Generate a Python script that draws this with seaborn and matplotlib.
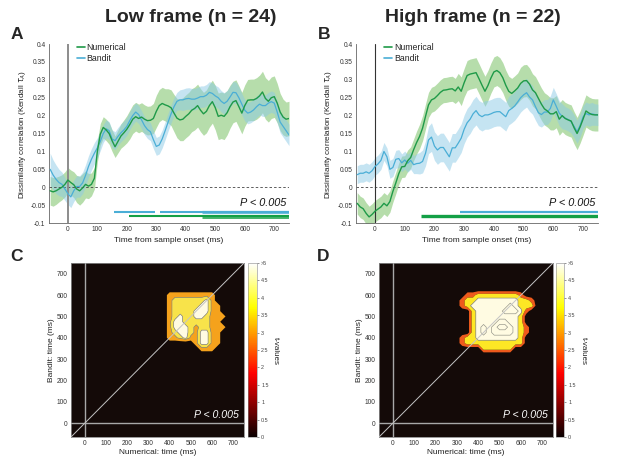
import numpy as np
import matplotlib
matplotlib.use('Agg')
import matplotlib.pyplot as plt
import seaborn as sns
from matplotlib.colors import Normalize
from matplotlib.cm import ScalarMappable

sns.set_style('white')
plt.rcParams['font.family'] = ['Liberation Sans', 'DejaVu Sans']
plt.rcParams['mathtext.fontset'] = 'dejavusans'

# ---------------- data: time courses (ms) ----------------
time = list(range(-60, 751, 10))

num_low = [-0.010, -0.013, -0.010, -0.005, 0.000, 0.008, 0.020, 0.013, 0.007, -0.005,
           -0.010, -0.002, 0.008, 0.003, 0.008, 0.025, 0.100, 0.148, 0.167, 0.160,
           0.150, 0.130, 0.113, 0.128, 0.143, 0.152, 0.162, 0.175, 0.190, 0.197,
           0.192, 0.196, 0.190, 0.186, 0.187, 0.192, 0.212, 0.228, 0.234, 0.230,
           0.227, 0.222, 0.207, 0.193, 0.188, 0.190, 0.198, 0.205, 0.215, 0.220,
           0.228, 0.215, 0.205, 0.212, 0.228, 0.239, 0.222, 0.198, 0.201, 0.198,
           0.208, 0.225, 0.238, 0.242, 0.225, 0.207, 0.228, 0.243, 0.244, 0.244,
           0.248, 0.255, 0.266, 0.248, 0.240, 0.250, 0.253, 0.235, 0.210, 0.196,
           0.190, 0.192]
num_low_sem = [0.040, 0.040, 0.038, 0.036, 0.035, 0.035, 0.035, 0.035, 0.036, 0.038,
               0.040, 0.040, 0.038, 0.035, 0.032, 0.030, 0.030, 0.030, 0.030, 0.030,
               0.030, 0.030, 0.030, 0.032, 0.034, 0.036, 0.038, 0.040, 0.040, 0.040,
               0.040, 0.040, 0.040, 0.040, 0.040, 0.042, 0.045, 0.045, 0.045, 0.045,
               0.048, 0.050, 0.052, 0.055, 0.058, 0.060, 0.060, 0.060, 0.060, 0.060,
               0.060, 0.060, 0.060, 0.060, 0.060, 0.060, 0.062, 0.065, 0.065, 0.065,
               0.062, 0.060, 0.058, 0.058, 0.058, 0.058, 0.058, 0.058, 0.058, 0.058,
               0.058, 0.058, 0.058, 0.058, 0.058, 0.058, 0.058, 0.055, 0.052, 0.050,
               0.048, 0.048]
ban_low = [0.050, 0.034, 0.022, 0.013, 0.008, -0.005, -0.018, -0.027, -0.010, 0.002,
           0.002, 0.012, 0.033, 0.058, 0.078, 0.095, 0.110, 0.128, 0.150, 0.163,
           0.158, 0.135, 0.130, 0.142, 0.152, 0.160, 0.170, 0.186, 0.200, 0.210,
           0.203, 0.188, 0.172, 0.161, 0.155, 0.133, 0.114, 0.118, 0.135, 0.158,
           0.182, 0.205, 0.225, 0.240, 0.244, 0.244, 0.247, 0.248, 0.246, 0.246,
           0.249, 0.253, 0.253, 0.257, 0.265, 0.262, 0.255, 0.250, 0.240, 0.234,
           0.240, 0.252, 0.265, 0.264, 0.250, 0.232, 0.215, 0.207, 0.210, 0.216,
           0.225, 0.232, 0.228, 0.228, 0.235, 0.239, 0.235, 0.210, 0.182, 0.170,
           0.158, 0.146]
ban_low_sem = ([0.045, 0.042, 0.040, 0.037, 0.034, 0.032, 0.030, 0.030, 0.030, 0.030,
                0.030, 0.030, 0.030, 0.030, 0.030, 0.030, 0.028, 0.026, 0.025, 0.025]
               + [0.025] * 24
               + [0.028, 0.030, 0.030, 0.030, 0.030, 0.030]
               + [0.030] * 32)

num_high = [-0.045, -0.055, -0.060, -0.073, -0.083, -0.076, -0.067, -0.061, -0.055, -0.045,
            -0.052, -0.040, -0.012, 0.012, 0.038, 0.057, 0.058, 0.074, 0.083, 0.105,
            0.125, 0.142, 0.165, 0.198, 0.230, 0.244, 0.248, 0.256, 0.265, 0.271,
            0.272, 0.274, 0.275, 0.269, 0.280, 0.268, 0.292, 0.312, 0.316, 0.318,
            0.320, 0.303, 0.285, 0.268, 0.284, 0.305, 0.322, 0.326, 0.320, 0.306,
            0.285, 0.268, 0.262, 0.269, 0.277, 0.290, 0.297, 0.298, 0.288, 0.272,
            0.264, 0.248, 0.232, 0.219, 0.213, 0.205, 0.205, 0.211, 0.190, 0.200,
            0.192, 0.188, 0.185, 0.166, 0.150, 0.168, 0.190, 0.213, 0.207, 0.203,
            0.202, 0.202]
num_high_sem = ([0.030] * 20
                + [0.032, 0.034, 0.035, 0.035, 0.035, 0.035, 0.035, 0.035, 0.035, 0.035,
                   0.035, 0.035, 0.035, 0.035, 0.038, 0.040, 0.040, 0.042, 0.042, 0.042]
                + [0.042] * 15
                + [0.045] * 27)
ban_high = [0.035, 0.039, 0.039, 0.043, 0.039, 0.046, 0.058, 0.065, 0.075, 0.100,
            0.085, 0.050, 0.055, 0.078, 0.080, 0.068, 0.076, 0.067, 0.075, 0.063,
            0.066, 0.067, 0.072, 0.095, 0.132, 0.140, 0.115, 0.104, 0.111, 0.111,
            0.098, 0.085, 0.110, 0.110, 0.123, 0.137, 0.162, 0.180, 0.190, 0.205,
            0.214, 0.202, 0.197, 0.202, 0.202, 0.205, 0.209, 0.211, 0.211, 0.204,
            0.197, 0.214, 0.220, 0.227, 0.238, 0.250, 0.258, 0.264, 0.252, 0.244,
            0.225, 0.208, 0.203, 0.210, 0.210, 0.220, 0.244, 0.226, 0.207, 0.198,
            0.193, 0.189, 0.183, 0.170, 0.155, 0.172, 0.196, 0.206, 0.202, 0.205,
            0.203, 0.202]
ban_high_sem = ([0.025] * 20
                + [0.028, 0.030, 0.032, 0.035, 0.038, 0.040, 0.040, 0.040, 0.040, 0.040]
                + [0.040] * 30
                + [0.038, 0.036, 0.035, 0.035, 0.035, 0.035, 0.035, 0.035, 0.035, 0.035]
                + [0.032] * 10
                + [0.030, 0.030])

# significant clusters (start, end) in ms
sig_low_bandit = [(158, 296), (313, 750)]
sig_low_num = [(208, 750)]
sig_low_both = [(456, 750)]
sig_high_bandit = [(287, 750)]
sig_high_num = [(155, 750)]

# ---------------- data: temporal generalisation t-maps ----------------
grid_x = [300, 325, 350, 375, 400, 425, 450, 475, 500, 525, 550, 575, 600, 625, 650, 675, 700, 725]
grid_y_top_down = [650, 625, 600, 575, 550, 525, 500, 475, 450, 425, 400, 375, 350, 325, 300]
O, Y, W = 3.1, 3.9, 4.8
tmap_low = [
    [0] * 18,
    [0] * 18,
    [0, 0, 0, 0, O, O, O, O, O, O, O, O, O, 0, 0, 0, 0, 0],
    [0, 0, 0, 0, O, Y, Y, Y, Y, Y, Y, W, O, 0, 0, 0, 0, 0],
    [0, 0, 0, 0, O, Y, Y, Y, Y, Y, W, W, O, O, 0, 0, 0, 0],
    [0, 0, 0, 0, O, Y, Y, Y, Y, W, W, W, O, O, 0, 0, 0, 0],
    [0, 0, 0, 0, O, Y, W, Y, Y, W, W, Y, O, O, O, 0, 0, 0],
    [0, 0, 0, 0, O, W, W, Y, Y, Y, Y, Y, O, O, 0, 0, 0, 0],
    [0, 0, 0, 0, O, W, W, W, Y, O, Y, Y, O, O, O, 0, 0, 0],
    [0, 0, 0, 0, O, Y, W, W, Y, O, W, W, O, O, 0, 0, 0, 0],
    [0, 0, 0, 0, O, O, Y, W, O, O, W, W, O, O, 0, 0, 0, 0],
    [0, 0, 0, 0, 0, 0, 0, 0, 0, O, W, W, O, O, 0, 0, 0, 0],
    [0, 0, 0, 0, 0, 0, 0, 0, 0, 0, O, O, O, 0, 0, 0, 0, 0],
    [0] * 18,
    [0] * 18,
]
R, X, Z = 2.2, 5.8, 6.8
tmap_high = [
    [0] * 18,
    [0] * 18,
    [0, 0, R, R, Y, Y, Y, Y, Y, Y, Y, Y, R, 0, 0, 0, 0, 0],
    [0, R, Y, Y, W, W, W, W, W, W, W, W, Y, Y, R, 0, 0, 0],
    [0, R, Y, W, W, W, W, W, W, W, X, W, Y, Y, Y, 0, 0, 0],
    [0, 0, 0, Y, W, W, W, W, W, X, X, X, W, R, 0, 0, 0, 0],
    [0, 0, 0, Y, W, W, W, W, W, W, W, W, Y, 0, 0, 0, 0, 0],
    [0, 0, 0, Y, W, W, W, W, X, X, W, W, Y, 0, 0, 0, 0, 0],
    [0, 0, 0, Y, W, X, W, X, Z, Z, X, W, Y, R, 0, 0, 0, 0],
    [0, 0, 0, Y, W, X, W, X, X, X, X, W, Y, R, 0, 0, 0, 0],
    [0, R, Y, Y, W, W, W, W, W, W, W, W, Y, 0, 0, 0, 0, 0],
    [0, R, Y, Y, Y, Y, Y, Y, Y, Y, Y, Y, Y, 0, 0, 0, 0, 0],
    [0, 0, 0, 0, 0, Y, Y, Y, Y, Y, Y, 0, 0, 0, 0, 0, 0, 0],
    [0] * 18,
    [0] * 18,
]

ytick_vals = [-0.1, -0.05, 0, 0.05, 0.1, 0.15, 0.2, 0.25, 0.3, 0.35, 0.4]
ytick_labels = ['-0.1', '-0.05', '0', '0.05', '0.1', '0.15', '0.2', '0.25', '0.3', '0.35', '0.4']
xtick_vals = [0, 100, 200, 300, 400, 500, 600, 700]
cbar_ticks = [0, 0.5, 1, 1.5, 2, 2.5, 3, 3.5, 4, 4.5, 5]
cbar_labels = ['0', '0.5', '1', '1.5', '2', '2.5', '3', '3.5', '4', '4.5', '>5']

GREEN = '#1f9a48'
BLUE = '#4aaed6'
GREEN_BAND = '#86c773'
BLUE_BAND = '#8ccae6'
XLIM = (-64, 750)

fig = plt.figure(figsize=(6.17, 4.62), dpi=100)
fig.patch.set_facecolor('white')


def line_panel(ax, num, num_sem, ban, ban_sem, sig_b, sig_n, sig_both, zero_color, zero_lw,
               bar_lw_b, bar_lw_n):
    t = np.array(time, dtype=float)
    num = np.array(num); ban = np.array(ban)
    num_sem = np.array(num_sem); ban_sem = np.array(ban_sem)
    ax.fill_between(t, num - num_sem, num + num_sem, color=GREEN_BAND, alpha=0.6, lw=0, zorder=1)
    ax.fill_between(t, ban - ban_sem, ban + ban_sem, color=BLUE_BAND, alpha=0.5, lw=0, zorder=1.5)
    ax.axhline(0, color='#444444', lw=0.6, ls=(0, (3, 2.5)), zorder=2)
    ax.axvline(0, color=zero_color, lw=zero_lw, zorder=2)
    sns.lineplot(x=t, y=num, ax=ax, color=GREEN, linewidth=1.0, label='Numerical', zorder=4)
    sns.lineplot(x=t, y=ban, ax=ax, color=BLUE, linewidth=0.9, label='Bandit', zorder=3)
    for s, e in sig_b:
        ax.hlines(-0.0705, s, e, color=BLUE, lw=bar_lw_b, zorder=3)
    for s, e in sig_n:
        ax.hlines(-0.0815, s, e, color='#13a046', lw=bar_lw_n, zorder=3)
    for s, e in sig_both:
        ax.hlines(-0.0705, s, e, color=BLUE, lw=bar_lw_b + 0.8, alpha=0.8, zorder=3)
        ax.hlines(-0.0825, s, e, color='#13a046', lw=bar_lw_n + 0.6, alpha=0.8, zorder=3)
    ax.text(742, -0.044, 'P < 0.005', ha='right', va='center', fontsize=7.8, style='italic',
            color='#111111')
    ax.set_xlim(*XLIM)
    ax.set_ylim(-0.1, 0.4)
    ax.set_yticks(ytick_vals)
    ax.set_yticklabels(ytick_labels)
    ax.set_xticks(xtick_vals)
    ax.set_xticklabels([str(v) for v in xtick_vals])
    ax.tick_params(axis='both', direction='in', length=2, width=0.5, labelsize=4.8,
                   colors='#333333', pad=2.5)
    for side in ['top', 'right']:
        ax.spines[side].set_visible(False)
    for side in ['left', 'bottom']:
        ax.spines[side].set_color('#666666')
        ax.spines[side].set_linewidth(0.6)
    ax.set_xlabel(''); ax.set_ylabel('')
    leg = ax.legend(loc='upper left', bbox_to_anchor=(0.095, 1.035), frameon=False, fontsize=6.3,
                    handlelength=0.9, handletextpad=0.2, labelspacing=0.25, borderaxespad=0.2)
    for h in leg.get_lines():
        h.set_linewidth(1.2)


axA = fig.add_axes([0.0794, 0.5173, 0.389, 0.3874])
axB = fig.add_axes([0.577, 0.5173, 0.392, 0.3874])
line_panel(axA, num_low, num_low_sem, ban_low, ban_low_sem, sig_low_bandit, sig_low_num,
           sig_low_both, '#8c8c8c', 1.4, 1.5, 1.5)
line_panel(axB, num_high, num_high_sem, ban_high, ban_high_sem, sig_high_bandit, sig_high_num,
           [], '#333333', 0.8, 1.6, 2.4)

ylab = r'Dissimilarity correlation (Kendall $\tau_A$)'
fig.text(0.036, 0.71, ylab, rotation=90, ha='center', va='center', fontsize=5.8, color='#222222')
fig.text(0.533, 0.71, ylab, rotation=90, ha='center', va='center', fontsize=5.8, color='#222222')
fig.text(0.274, 0.479, 'Time from sample onset (ms)', ha='center', va='center', fontsize=6,
         color='#222222')
fig.text(0.773, 0.479, 'Time from sample onset (ms)', ha='center', va='center', fontsize=6,
         color='#222222')

fig.text(0.3096, 0.963, 'Low frame (n = 24)', ha='center', va='center', fontsize=14,
         fontweight='bold')
fig.text(0.766, 0.963, 'High frame (n = 22)', ha='center', va='center', fontsize=14,
         fontweight='bold')
for lbl, x, y in [('A', 0.0267, 0.926), ('B', 0.526, 0.925), ('C', 0.026, 0.445), ('D', 0.524, 0.445)]:
    fig.text(x, y, lbl, ha='center', va='center', fontsize=12.5, fontweight='bold')

hot = plt.get_cmap('hot')


def heat_panel(ax, cax, tmap, levels, colors, line_levels, lab_x, cbar_lab_x, ylab_x):
    gx = np.array(grid_x, dtype=float)
    gy = np.array(grid_y_top_down[::-1], dtype=float)
    Zm = np.array(tmap, dtype=float)[::-1]
    ax.set_facecolor('#140a08')
    ax.contourf(gx, gy, Zm, levels=levels, colors=colors, antialiased=True, zorder=1)
    ax.contour(gx, gy, Zm, levels=line_levels, colors='#8f8f84', linewidths=0.45, zorder=2)
    ax.axvline(0, color='#a8a8a8', lw=1.0, zorder=3)
    ax.axhline(0, color='#a8a8a8', lw=1.0, zorder=3)
    ax.axline((0, 0), slope=1, color='#c4c4c4', lw=0.7, zorder=3)
    ax.text(726, 39, 'P < 0.005', ha='right', va='center', fontsize=7.6, style='italic',
            color='white', zorder=4)
    ax.set_xlim(*XLIM); ax.set_ylim(*XLIM)
    ax.set_xticks(xtick_vals); ax.set_yticks(xtick_vals)
    ax.set_xticklabels([str(v) for v in xtick_vals])
    ax.set_yticklabels([str(v) for v in xtick_vals])
    ax.tick_params(axis='both', length=0, labelsize=4.8, colors='#333333', pad=2.5)
    for s in ax.spines.values():
        s.set_color('#888888'); s.set_linewidth(0.6); s.set_visible(True)
    ax.grid(False)
    sm = ScalarMappable(norm=Normalize(0, 5), cmap=hot)
    cb = fig.colorbar(sm, cax=cax)
    cb.set_ticks(cbar_ticks)
    cb.set_ticklabels(cbar_labels)
    cax.tick_params(labelsize=3.9, length=1.5, width=0.4, colors='#444444', pad=1.5)
    cb.outline.set_linewidth(0.4); cb.outline.set_edgecolor('#888888')
    fig.text(lab_x, 0.0195, 'Numerical: time (ms)', ha='center', va='center', fontsize=6,
             color='#222222')
    fig.text(ylab_x, 0.242, 'Bandit: time (ms)', rotation=90, ha='center', va='center',
             fontsize=6, color='#222222')
    fig.text(cbar_lab_x, 0.241, 't-values', rotation=270, ha='center', va='center',
             fontsize=5.8, color='#222222')


axC = fig.add_axes([0.1151, 0.0541, 0.2804, 0.3766])
caxC = fig.add_axes([0.4019, 0.0541, 0.0146, 0.3766])
axD = fig.add_axes([0.6143, 0.0541, 0.282, 0.3766])
caxD = fig.add_axes([0.9011, 0.0541, 0.013, 0.3766])

heat_panel(axC, caxC, tmap_low, [1.5, 3.45, 4.4, 99],
           ['#f5a21c', '#f8e34a', '#fffbe2'], [3.45, 4.4], 0.2553, 0.4457, 0.084)
heat_panel(axD, caxD, tmap_high, [1.1, 3.0, 4.4, 99],
           ['#ee5a1c', '#fde725', '#fffbe2'], [4.4, 5.3, 6.3], 0.7553, 0.945, 0.582)

fig.savefig('out.png', dpi=100, facecolor='white')
